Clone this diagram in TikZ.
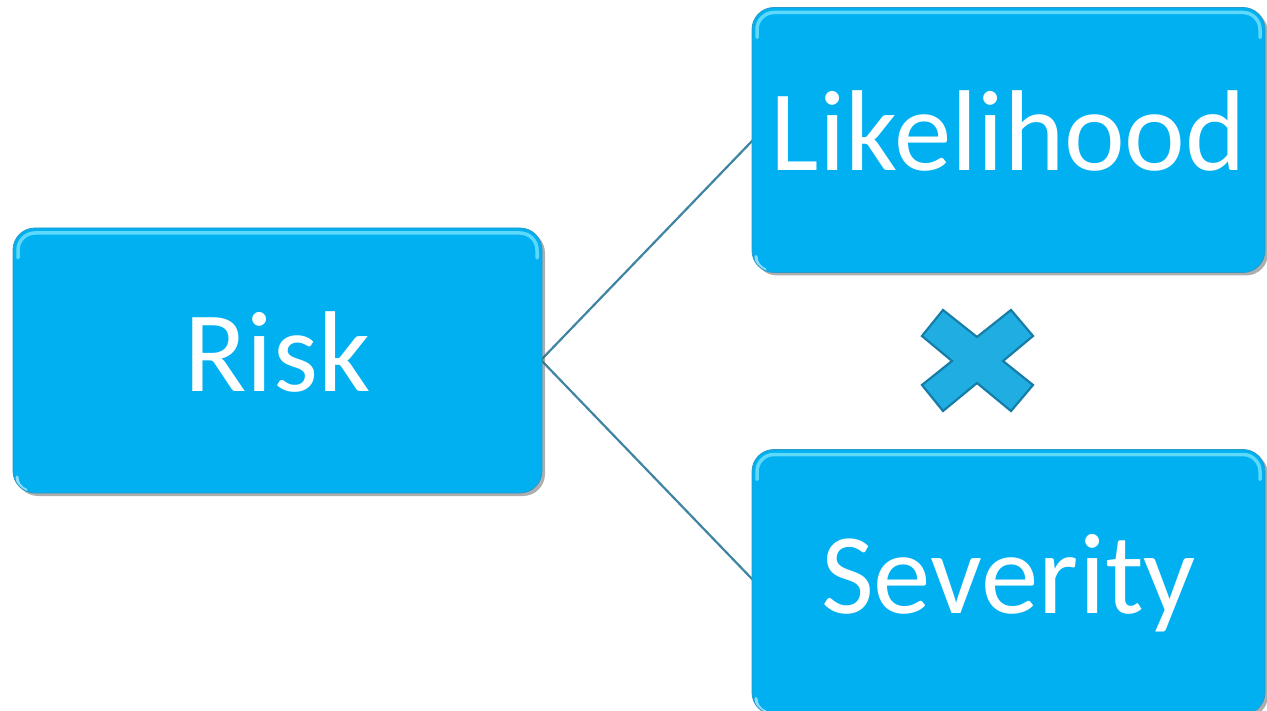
\documentclass[tikz,border=0pt]{standalone}
\usepackage{fontspec}
\setmainfont{Carlito}
\usetikzlibrary{shadows}

\definecolor{boxblue}{HTML}{00B0F0}
\definecolor{boxedge}{HTML}{2A9AC8}
\definecolor{glint}{HTML}{7FE8FF}
\definecolor{connector}{HTML}{3F84A2}
\definecolor{crossfill}{HTML}{20ADE2}
\definecolor{crossedge}{HTML}{167EA6}

\tikzset{
  box/.style={
    draw=boxedge, line width=0.8pt, fill=boxblue,
    rounded corners=22pt, inner sep=0pt,
    text=white, font=\fontsize{115}{120}\selectfont,
    text height=62pt, text depth=0pt,
    drop shadow={shadow xshift=3pt, shadow yshift=-3pt, opacity=0.45, fill=black!70},
    path picture={
      % light bevel along the upper edge
      \draw[glint, line width=3.5pt, opacity=0.75, rounded corners=17pt, line cap=round]
        ([xshift=5pt, yshift=-30pt]path picture bounding box.north west)
        -- ([xshift=5pt, yshift=-5pt]path picture bounding box.north west)
        -- ([xshift=-5pt, yshift=-5pt]path picture bounding box.north east)
        -- ([xshift=-5pt, yshift=-30pt]path picture bounding box.north east);
      % small highlight at the lower left corner
      \draw[white, line width=3pt, opacity=0.55, line cap=round]
        ([xshift=4pt, yshift=16pt]path picture bounding box.south west)
        arc[start angle=180, end angle=250, radius=14pt];
    }
  },
  link/.style={draw=connector, line width=2.2pt},
  times/.style={fill=crossfill, draw=crossedge, line width=2.2pt, line join=miter}
}

\begin{document}
\begin{tikzpicture}[x=1pt, y=-1pt]
  \useasboundingbox (0,0) rectangle (1267,711);

  % connectors first so the boxes sit on top of their ends
  \coordinate (hub) at (541,360);
  \coordinate (likein) at (753,140);
  \coordinate (sevin) at (753,580);
  \draw[link] (hub) -- (likein);
  \draw[link] (hub) -- (sevin);

  \node[box, minimum width=529pt, minimum height=265pt] (risk) at (277.5,360.5) {Risk};
  \node[box, minimum width=513pt, minimum height=265pt] (like) at (1008.5,140) {Likelihood};
  \node[box, minimum width=513pt, minimum height=265pt] (sev) at (1008.5,582) {Severity};

  % multiplication sign between the two factors
  \draw[times]
    (943,310) -- (977,337) -- (1011,310) -- (1033,336) -- (1003,361)
    -- (1033,385) -- (1011,411) -- (977,383) -- (943,411) -- (922,385)
    -- (952,361) -- (922,336) -- cycle;
\end{tikzpicture}
\end{document}
